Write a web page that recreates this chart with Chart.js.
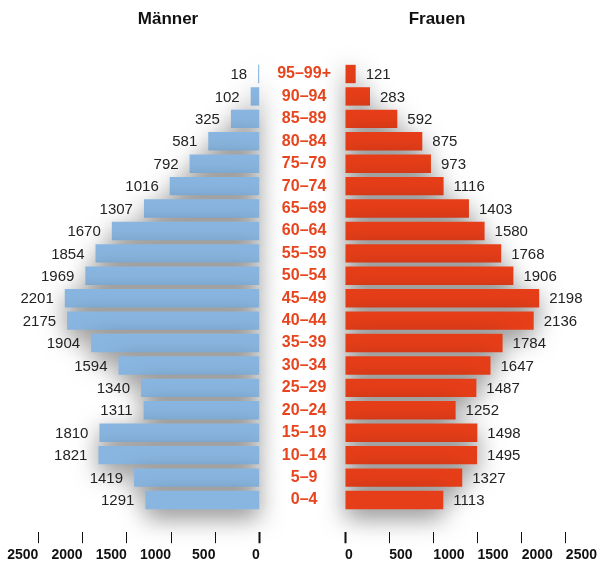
<!DOCTYPE html>
<html>
<head>
<meta charset="utf-8">
<script src="https://cdn.jsdelivr.net/npm/chart.js@4.4.0/dist/chart.umd.min.js"></script>
<style>
    body { margin: 0; background: #fff; }
    #wrap { position: relative; width: 601px; height: 563px; font-family: "Liberation Sans", Arial, Helvetica, sans-serif; }
    #wrap canvas { position: absolute; left: 0; top: 0; }
    .title { position: absolute; top: 9px; font-weight: bold; font-size: 17px; color: #111; transform: translateX(-50%); }
</style>
</head>
<body>
<div id="wrap">
    <canvas id="menChart" width="601" height="563"></canvas>
    <canvas id="womenChart" width="601" height="563"></canvas>
    <div class="title" style="left:168px">Männer</div>
    <div class="title" style="left:437px">Frauen</div>
</div>
<script>
const ageGroups = ['95–99+', '90–94', '85–89', '80–84', '75–79', '70–74', '65–69', '60–64', '55–59', '50–54',
    '45–49', '40–44', '35–39', '30–34', '25–29', '20–24', '15–19', '10–14', '5–9', '0–4'];
const men = [18, 102, 325, 581, 792, 1016, 1307, 1670, 1854, 1969, 2201, 2175, 1904, 1594, 1340, 1311, 1810, 1821, 1419, 1291];
const women = [121, 283, 592, 875, 973, 1116, 1403, 1580, 1768, 1906, 2198, 2136, 1784, 1647, 1487, 1252, 1498, 1495, 1327, 1113];
const axisMax = 2500;
const axisStep = 500;

const fontFamily = '"Liberation Sans", Arial, Helvetica, sans-serif';

// soft grey glow behind the bars
const shadowPlugin = {
    id: 'barShadow',
    beforeDatasetsDraw: (chart) => {
        const ctx = chart.ctx;
        ctx.save();
        ctx.shadowColor = 'rgba(0, 0, 0, 0.5)';
        ctx.shadowBlur = 24;
        ctx.shadowOffsetY = 8;
    },
    afterDatasetsDraw: (chart) => {
        chart.ctx.restore();
    }
};

// numbers next to the bar ends
const valueLabelPlugin = {
    id: 'valueLabels',
    afterDatasetsDraw: (chart, args, opts) => {
        const ctx = chart.ctx;
        const meta = chart.getDatasetMeta(0);
        const values = chart.data.datasets[0].data;
        ctx.save();
        ctx.font = '15px ' + fontFamily;
        ctx.fillStyle = '#222';
        ctx.textBaseline = 'middle';
        ctx.textAlign = opts.side === 'left' ? 'right' : 'left';
        meta.data.forEach((bar, i) => {
            const x = opts.side === 'left' ? bar.x - 11 : bar.x + 10;
            ctx.fillText(values[i], x, bar.y + 1);
        });
        ctx.restore();
    }
};

const xAxis = (reverse, align) => ({
    type: 'linear',
    position: 'bottom',
    reverse: reverse,
    min: 0,
    max: axisMax,
    afterFit: (scale) => { scale.height = 51.8; },
    afterBuildTicks: (scale) => {
        const ticks = [];
        for (let v = 0; v <= axisMax; v += axisStep) ticks.push({value: v});
        scale.ticks = ticks;
    },
    border: { display: false },
    grid: {
        drawOnChartArea: false,
        drawTicks: true,
        tickLength: 32,
        tickBorderDash: [0, 21, 100],
        tickColor: '#111',
        tickWidth: (c) => c.tick && c.tick.value === 0 ? 2 : 1
    },
    ticks: {
        align: align,
        padding: 4,
        color: '#111',
        font: { family: fontFamily, size: 14, weight: 'bold' },
        maxRotation: 0,
        autoSkip: false,
        callback: (value) => String(value)
    }
});

const barDataset = (data, color) => ({
    data: data,
    backgroundColor: color,
    borderWidth: 0,
    barPercentage: 0.82,
    categoryPercentage: 1,
    clip: false
});

new Chart(document.getElementById('menChart'), {
    type: 'bar',
    data: {
        labels: ageGroups,
        datasets: [barDataset(men, '#89b6e0')]
    },
    options: {
        indexAxis: 'y',
        responsive: false,
        animation: false,
        layout: { padding: { left: 38.3, right: 341.3, top: 62.8, bottom: 0 } },
        plugins: {
            legend: { display: false },
            tooltip: { enabled: false },
            valueLabels: { side: 'left' }
        },
        scales: {
            x: xAxis(true, 'end'),
            y: { display: false }
        }
    },
    plugins: [shadowPlugin, valueLabelPlugin]
});

new Chart(document.getElementById('womenChart'), {
    type: 'bar',
    data: {
        labels: ageGroups,
        datasets: [barDataset(women, '#e63e19')]
    },
    options: {
        indexAxis: 'y',
        responsive: false,
        animation: false,
        layout: { padding: { left: 262, right: 34.3, top: 62.8, bottom: 0 } },
        plugins: {
            legend: { display: false },
            tooltip: { enabled: false },
            valueLabels: { side: 'right' }
        },
        scales: {
            x: xAxis(false, 'start'),
            y: {
                position: 'left',
                afterFit: (scale) => { scale.width = 83; },
                border: { display: false },
                grid: { display: false },
                ticks: {
                    crossAlign: 'center',
                    color: '#e8441e',
                    padding: 6,
                    font: { family: fontFamily, size: 16, weight: 'bold' }
                }
            }
        }
    },
    plugins: [shadowPlugin, valueLabelPlugin]
});
</script>
</body>
</html>
